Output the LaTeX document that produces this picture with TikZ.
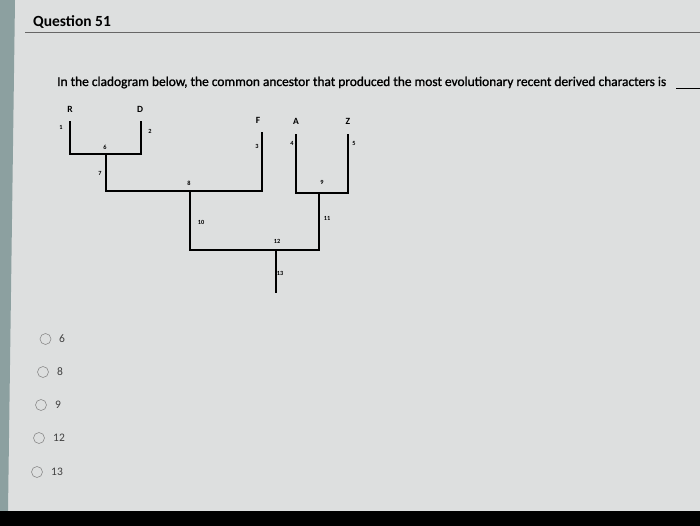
\documentclass[tikz,border=0pt]{standalone}
\usepackage{fontspec}
\setmainfont{Carlito}
\newfontfamily\qfont[FakeBold=1.2]{Carlito}
\definecolor{bgc}{RGB}{221,223,223}
\definecolor{stripc}{RGB}{140,160,160}
\begin{document}
\begin{tikzpicture}[x=1pt,y=-1pt,
  branch/.style={line width=2.2pt,black,line cap=rect},
  taxon/.style={font=\fontsize{9.5}{10}\selectfont\bfseries,inner sep=0pt},
  trait/.style={font=\fontsize{6.3}{7}\selectfont\bfseries,inner sep=0pt},
  radio/.style={circle,draw=black!45,line width=0.6pt,minimum size=11pt,inner sep=0pt},
  opt/.style={font=\fontsize{11.5}{12}\selectfont,text=black!75,anchor=west,inner sep=0pt}]
\useasboundingbox (0,0) rectangle (700,526);
% background
\fill[bgc] (0,0) rectangle (700,526);
\fill[stripc] (0,0) -- (15,0) -- (8,511) -- (0,511) -- cycle;
\fill[black] (0,511) rectangle (700,526);
% header
\node[font=\fontsize{15.5}{16}\selectfont\bfseries,anchor=base west,inner sep=0pt] (title) at (33,27) {Question 51};
\coordinate (hl) at (25,32);
\coordinate (hr) at (700,32);
\draw[line width=0.8pt,black!60] (hl) -- (hr);
\node[font=\fontsize{13.4}{14}\qfont,anchor=base west,inner sep=0pt] (q) at (57,86) {In the cladogram below, the common ancestor that produced the most evolutionary recent derived characters is};
\coordinate (ul) at (676,88);
\coordinate (ur) at (700,88);
\draw[line width=0.8pt] (ul) -- (ur);
% tree coordinates
\coordinate (tR) at (70,122);  \coordinate (bR) at (70,154);
\coordinate (tD) at (141,122); \coordinate (bD) at (141,154);
\coordinate (s6) at (106,154); \coordinate (e6) at (106,191);
\coordinate (tF) at (262,133); \coordinate (bF) at (262,191);
\coordinate (s8) at (190,191); \coordinate (e8) at (190,250);
\coordinate (tA) at (296,135); \coordinate (bA) at (296,193);
\coordinate (tZ) at (348,135); \coordinate (bZ) at (348,193);
\coordinate (s9) at (319,193); \coordinate (e9) at (319,250);
\coordinate (s12) at (276,250); \coordinate (e12) at (276,292);
\draw[branch] (tR) -- (bR) -- (bD) -- (tD);
\draw[branch] (s6) -- (e6) -- (bF) -- (tF);
\draw[branch] (tA) -- (bA) -- (bZ) -- (tZ);
\draw[branch] (s8) -- (e8) -- (e9) -- (s9);
\draw[branch] (s12) -- (e12);
% taxa
\node[taxon] (R) at (70,109) {R};
\node[taxon] (D) at (140,109) {D};
\node[taxon] (F) at (258,120) {F};
\node[taxon] (A) at (296,121) {A};
\node[taxon] (Z) at (348,121) {Z};
% traits
\node[trait] (c1) at (61,127) {1};
\node[trait] (c2) at (150,131) {2};
\node[trait] (c6) at (105,147) {6};
\node[trait] (c7) at (100,173) {7};
\node[trait] (c8) at (189,183) {8};
\node[trait] (c3) at (257,146) {3};
\node[trait] (c4) at (292,143) {4};
\node[trait] (c5) at (354,143) {5};
\node[trait] (c9) at (322,182) {9};
\node[trait] (c10) at (201,222) {10};
\node[trait] (c11) at (327,218) {11};
\node[trait] (c12) at (277,241) {12};
\node[trait] (c13) at (280,273) {13};
% options
\node[radio] (r1) at (45.5,339) {};  \node[opt] (o1) at (59,339) {6};
\node[radio] (r2) at (43,372) {};    \node[opt] (o2) at (57,372) {8};
\node[radio] (r3) at (41,405) {};    \node[opt] (o3) at (55,405) {9};
\node[radio] (r4) at (39,438) {};    \node[opt] (o4) at (53,438) {12};
\node[radio] (r5) at (37,472) {};    \node[opt] (o5) at (51,472) {13};
\end{tikzpicture}
\end{document}
